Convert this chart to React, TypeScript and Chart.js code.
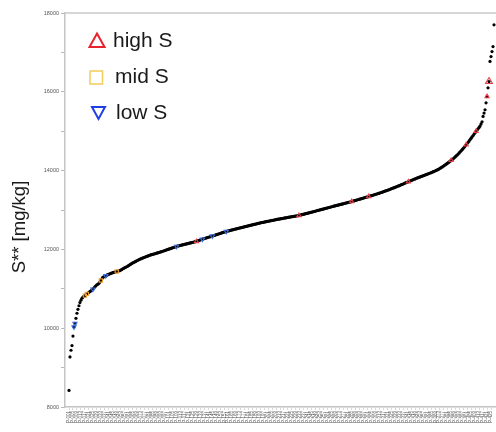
import { useEffect, useRef } from "react";
import { Chart, registerables } from "chart.js";

Chart.register(...registerables);

// Sorted S** values [mg/kg] from left to right
const values: number[] = [
  8420, 9270, 9440, 9560, 9800, 10030, 10120, 10250, 10380, 10480,
  10570, 10650, 10710, 10760, 10790, 10810, 10825, 10850, 10870, 10885,
  10910, 10930, 10945, 10970, 10990, 11020, 11050, 11075, 11100, 11115,
  11140, 11170, 11210, 11250, 11290,
  11305, 11318, 11330, 11346, 11358, 11369, 11381, 11390, 11401, 11410,
  11416, 11424, 11431, 11440, 11446, 11455, 11461, 11474, 11489, 11506,
  11519, 11536, 11547, 11560,
  11574, 11591, 11609, 11626, 11639, 11656, 11667, 11681, 11696, 11709,
  11723, 11735, 11750, 11759, 11771, 11779, 11793, 11801, 11811, 11823,
  11829, 11841, 11850, 11859, 11865, 11874, 11880, 11889, 11894, 11903,
  11910, 11919, 11925,
  11935, 11942, 11953, 11960, 11971, 11977, 11989, 11995, 12006, 12013,
  12023, 12031, 12041, 12048, 12059, 12066, 12076, 12081, 12090, 12094,
  12102, 12107, 12115, 12119, 12128, 12132, 12140, 12145, 12153, 12157,
  12165, 12170, 12178, 12182, 12191, 12195, 12202, 12213, 12221, 12232,
  12240, 12251, 12260,
  12267, 12277, 12283, 12293, 12299, 12309, 12315, 12325, 12331, 12340,
  12347, 12358, 12364, 12374, 12381, 12391, 12397, 12408, 12414, 12424,
  12431, 12441, 12447, 12456, 12461, 12470, 12474, 12483, 12487, 12496,
  12500, 12509, 12513, 12522, 12526, 12535, 12540, 12545, 12554, 12558,
  12566, 12570, 12579, 12583, 12591, 12595, 12604, 12608, 12616, 12620,
  12629, 12633, 12641, 12645, 12653, 12658, 12666, 12670, 12678, 12683,
  12687, 12694, 12698, 12704, 12709, 12714, 12720, 12724, 12730, 12735,
  12740, 12745, 12750, 12756, 12760, 12766, 12770,
  12774, 12780, 12783, 12789, 12793, 12798, 12802, 12807, 12811, 12817,
  12820, 12826, 12830, 12834, 12839, 12843, 12848, 12852, 12857, 12861,
  12868, 12874, 12881, 12887, 12895, 12900, 12908, 12914, 12921, 12927,
  12934, 12940, 12948, 12954, 12961, 12967, 12975, 12981, 12988, 12994,
  13001, 13008, 13015, 13021, 13028, 13035, 13042, 13048, 13056, 13063,
  13069, 13076, 13083, 13089, 13096, 13103, 13109, 13116, 13122, 13129,
  13136, 13142, 13149, 13155, 13162, 13169, 13175, 13182, 13188, 13195,
  13202, 13208, 13215,
  13222, 13230, 13237, 13245, 13252, 13260, 13267, 13275, 13282, 13290,
  13297, 13305, 13312, 13320, 13327, 13335, 13342,
  13350, 13358, 13365, 13373, 13381, 13389, 13397, 13404, 13412, 13420,
  13429, 13438, 13447, 13456, 13465, 13474, 13483, 13492, 13501, 13510,
  13520, 13530, 13540, 13550, 13560, 13570, 13580, 13590, 13600, 13610,
  13621, 13632, 13643, 13654, 13665, 13676, 13687, 13698, 13709, 13720,
  13730, 13741, 13751, 13761, 13772, 13782, 13792, 13803, 13813, 13823,
  13833, 13843, 13852, 13862, 13872, 13881, 13891, 13901, 13910, 13920,
  13930, 13939, 13949,
  13960, 13972, 13983, 13995, 14006, 14018, 14030,
  14046, 14062, 14078, 14094, 14110,
  14128, 14146, 14164, 14182, 14200,
  14220, 14240, 14260, 14280, 14300,
  14324, 14348, 14372, 14396, 14420,
  14448, 14476, 14504, 14532, 14560,
  14592, 14624, 14656, 14688, 14720,
  14754, 14788, 14822, 14856, 14890,
  14927, 14963, 15000, 15030, 15060, 15095, 15130, 15185, 15240,
  15375, 15460, 15544, 15720, 15880, 16100, 16260,
  16770, 16894, 17020, 17147, 17700,
];

// Positions (rank indices) of the highlighted samples
const highSIdx: number[] = [128, 231, 284, 301, 341, 384, 399, 409, 420, 422];
const midSIdx: number[] = [16, 18, 32, 48];
const lowSIdx: number[] = [5, 6, 24, 37, 108, 134, 144, 158];

const legendLabels: string[] = ["high S", "mid S", "low S"];
const yTitle = "S** [mg/kg]";
const yMin = 8000;
const yMax = 18000;

// Sample identifiers along the x axis (unreadable in the source image)
const sampleIds: string[] = values.map((_, i) => "P-" + String(i + 1).padStart(3, "0"));

const FONT = '"Liberation Sans", Arial, sans-serif';

export default function App() {
  const ref = useRef<HTMLCanvasElement | null>(null);

  useEffect(() => {
    document.body.style.margin = "0";
    const canvas = ref.current;
    if (!canvas) return;

    const N = values.length;
    const pxPerUnit = 425 / (N - 1);
    const xMin = -4 / pxPerUnit;
    const xMax = N - 1 + 2 / pxPerUnit;

    const pts = values.map((v, i) => ({ x: i, y: v }));
    const pick = (idx: number[]) => idx.map((i) => ({ x: i, y: values[i] }));

    const decorations = {
      id: "decorations",
      afterDraw(chart: any) {
        const { ctx, chartArea } = chart;
        ctx.save();
        // top frame line
        ctx.strokeStyle = "#c9c9c9";
        ctx.lineWidth = 1.5;
        ctx.beginPath();
        ctx.moveTo(chartArea.left, chartArea.top);
        ctx.lineTo(chartArea.right, chartArea.top);
        ctx.stroke();

        // y axis title
        ctx.save();
        ctx.translate(20, 227);
        ctx.rotate(-Math.PI / 2);
        ctx.font = `18.5px ${FONT}`;
        ctx.fillStyle = "#1a1a1a";
        ctx.textAlign = "center";
        ctx.textBaseline = "middle";
        ctx.fillText(yTitle, 0, 0);
        ctx.restore();

        // legend
        ctx.lineJoin = "miter";
        // high S: red up triangle
        ctx.strokeStyle = "#e8232b";
        ctx.lineWidth = 2;
        ctx.beginPath();
        ctx.moveTo(97, 33.5);
        ctx.lineTo(104.5, 47);
        ctx.lineTo(89.5, 47);
        ctx.closePath();
        ctx.stroke();
        // mid S: yellow square
        ctx.strokeStyle = "#f1cd5a";
        ctx.lineWidth = 1.5;
        ctx.strokeRect(90, 71, 12.5, 13);
        // low S: blue down triangle
        ctx.strokeStyle = "#1f3fe4";
        ctx.lineWidth = 2;
        ctx.beginPath();
        ctx.moveTo(92, 107);
        ctx.lineTo(105, 107);
        ctx.lineTo(98.5, 119);
        ctx.closePath();
        ctx.stroke();

        ctx.font = `21px ${FONT}`;
        ctx.fillStyle = "#1a1a1a";
        ctx.textAlign = "left";
        ctx.textBaseline = "alphabetic";
        ctx.fillText(legendLabels[0], 113, 47);
        ctx.fillText(legendLabels[1], 115, 83);
        ctx.fillText(legendLabels[2], 116, 119);
        ctx.restore();
      },
    };

    const chart = new Chart(canvas, {
      type: "scatter",
      data: {
        datasets: [
          {
            label: legendLabels[0],
            data: pick(highSIdx),
            pointStyle: "triangle",
            pointRadius: (c: any) => (c.raw && c.raw.y > 16000 ? 4 : 2.4),
            borderColor: "#e8404a",
            backgroundColor: "rgba(0,0,0,0)",
            borderWidth: 1.1,
            order: 1,
          },
          {
            label: legendLabels[1],
            data: pick(midSIdx),
            pointStyle: "rect",
            pointRadius: 2.3,
            borderColor: "#f0a030",
            backgroundColor: "rgba(0,0,0,0)",
            borderWidth: 1.1,
            order: 1,
          },
          {
            label: legendLabels[2],
            data: pick(lowSIdx),
            pointStyle: "triangle",
            rotation: 180,
            pointRadius: 2.4,
            borderColor: "#3b6fe0",
            backgroundColor: "rgba(0,0,0,0)",
            borderWidth: 1.1,
            order: 1,
          },
          {
            label: "all",
            data: pts,
            pointStyle: "circle",
            pointRadius: 1.6,
            borderWidth: 0,
            backgroundColor: "#000000",
            borderColor: "#000000",
            order: 2,
          },
        ],
      },
      options: {
        animation: false,
        responsive: false,
        devicePixelRatio: 1,
        layout: { autoPadding: false, padding: { top: 13, right: 0, bottom: 0, left: 0 } },
        plugins: {
          legend: { display: false },
          tooltip: { enabled: false },
          title: { display: false },
        },
        scales: {
          x: {
            type: "linear",
            min: xMin,
            max: xMax,
            afterBuildTicks: (scale: any) => {
              const t: { value: number }[] = [];
              for (let i = 0; i < N; i += 4) t.push({ value: i });
              scale.ticks = t;
            },
            afterFit: (scale: any) => {
              scale.height = 25;
              scale.paddingLeft = 0;
              scale.paddingRight = 0;
            },
            grid: {
              drawOnChartArea: false,
              drawTicks: true,
              tickLength: 3,
              color: "#cfcfcf",
              lineWidth: 0.8,
            },
            border: { display: true, color: "#c4c4c4", width: 1.5 },
            ticks: {
              autoSkip: false,
              minRotation: 90,
              maxRotation: 90,
              padding: 1,
              font: { family: FONT, size: 4.5 },
              color: "#555555",
              callback: (v: any) => {
                const i = Math.round(Number(v));
                return sampleIds[i] ?? "";
              },
            },
          },
          y: {
            type: "linear",
            min: yMin,
            max: yMax,
            afterFit: (scale: any) => {
              scale.width = 65;
            },
            grid: {
              drawOnChartArea: false,
              drawTicks: true,
              tickLength: 4,
              color: "#b8b8b8",
            },
            border: { display: true, color: "#c4c4c4", width: 1.5 },
            ticks: {
              stepSize: 1000,
              padding: 2,
              font: { family: FONT, size: 5.5 },
              color: "#555555",
              callback: (v: any) => (Number(v) % 2000 === 0 ? String(v) : ""),
            },
            title: { display: false },
          },
        },
      },
      plugins: [decorations],
    } as any);

    return () => chart.destroy();
  }, []);

  return <canvas ref={ref} width={496} height={432} style={{ display: "block" }} />;
}
